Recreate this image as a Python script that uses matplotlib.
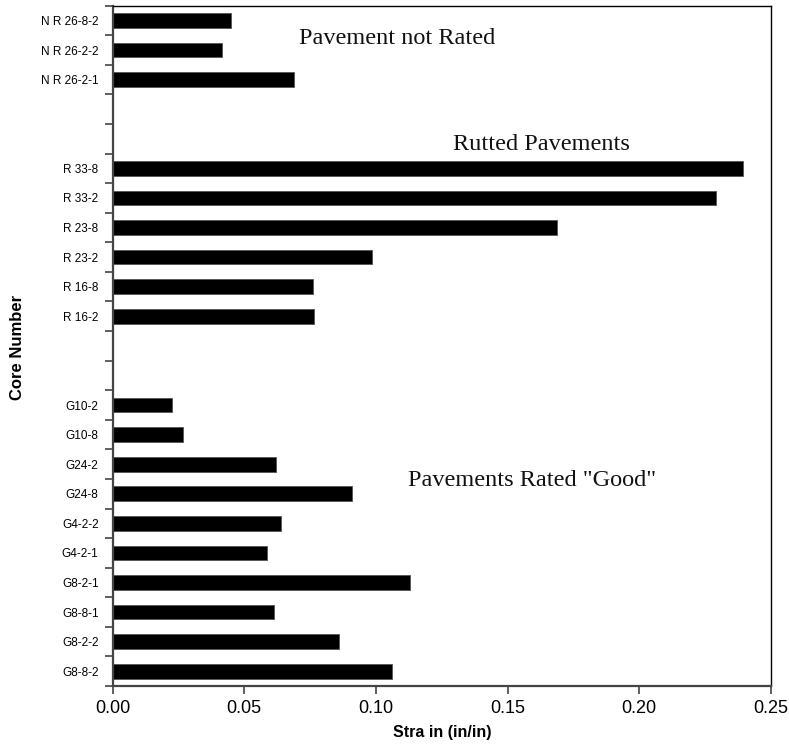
import matplotlib
matplotlib.use("Agg")
import matplotlib.pyplot as plt
from matplotlib.ticker import FixedLocator, NullFormatter

# Core samples, listed bottom to top within each group
good_labels = ["G8-8-2", "G8-2-2", "G8-8-1", "G8-2-1", "G4-2-1",
               "G4-2-2", "G24-8", "G24-2", "G10-8", "G10-2"]
good_strain = [0.1062, 0.0859, 0.0613, 0.113, 0.0585,
               0.0641, 0.0908, 0.062, 0.0269, 0.0227]

rutted_labels = ["R 16-2", "R 16-8", "R 23-2", "R 23-8", "R 33-2", "R 33-8"]
rutted_strain = [0.0766, 0.076, 0.0984, 0.1686, 0.229, 0.2395]

notrated_labels = ["N R 26-2-1", "N R 26-2-2", "N R 26-8-2"]
notrated_strain = [0.069, 0.0416, 0.045]

x_ticks = [0.00, 0.05, 0.10, 0.15, 0.20, 0.25]
x_ticklabels = ["0.00", "0.05", "0.10", "0.15", "0.20", "0.25"]

# Row slots: two empty rows separate each group
GAP = 2
good_pos = list(range(len(good_labels)))
rutted_start = len(good_labels) + GAP
rutted_pos = list(range(rutted_start, rutted_start + len(rutted_labels)))
nr_start = rutted_pos[-1] + 1 + GAP
nr_pos = list(range(nr_start, nr_start + len(notrated_labels)))
n_slots = nr_pos[-1] + 1

fig = plt.figure(figsize=(7.89, 7.46), dpi=100)
ax = fig.add_axes([0.1426, 0.0804, 0.8346, 0.912])

bar_kw = dict(height=0.5, color="black", edgecolor="#555555", linewidth=0.6)
ax.barh(good_pos, good_strain, **bar_kw)
ax.barh(rutted_pos, rutted_strain, **bar_kw)
ax.barh(nr_pos, notrated_strain, **bar_kw)

ax.set_xlim(0, 0.25)
ax.set_ylim(-0.5, n_slots - 0.5)

# X axis
ax.set_xticks(x_ticks)
ax.set_xticklabels(x_ticklabels, fontsize=13, family="Liberation Sans")
ax.tick_params(axis="x", direction="out", length=6, width=1.2,
               color="#444444", pad=4)
ax.set_xlabel("Stra in (in/in)", fontsize=11.5, fontweight="bold",
              family="Liberation Sans", labelpad=6)

# Y axis: ticks on row boundaries, labels at row centres
ax.yaxis.set_major_locator(FixedLocator([i - 0.5 for i in range(n_slots + 1)]))
ax.yaxis.set_major_formatter(NullFormatter())
ax.tick_params(axis="y", which="major", direction="out", length=6,
               width=1.2, color="#444444")
all_pos = good_pos + rutted_pos + nr_pos
all_labels = good_labels + rutted_labels + notrated_labels
ax.set_yticks(all_pos, minor=True)
ax.set_yticklabels(all_labels, minor=True, fontsize=8.5,
                   family="Liberation Sans")
ax.tick_params(axis="y", which="minor", length=0, pad=10)
ax.set_ylabel("Core Number", fontsize=12, fontweight="bold",
              family="Liberation Sans")
ax.yaxis.set_label_coords(-0.133, 0.498)

for side in ("left", "bottom"):
    ax.spines[side].set_linewidth(1.6)
    ax.spines[side].set_color("#444444")
for side in ("top", "right"):
    ax.spines[side].set_linewidth(1.0)
    ax.spines[side].set_color("black")

# Group captions
serif = dict(family="Liberation Serif", fontsize=17.5, color="#111111",
             ha="center", va="center")
ax.text(0.108, nr_pos[-1] - 0.6, "Pavement not Rated", **serif)
ax.text(0.1627, rutted_pos[-1] + 0.8, "Rutted Pavements", **serif)
ax.text(0.1593, 6.45, 'Pavements Rated "Good"', **serif)

fig.savefig("out.png", dpi=100)
